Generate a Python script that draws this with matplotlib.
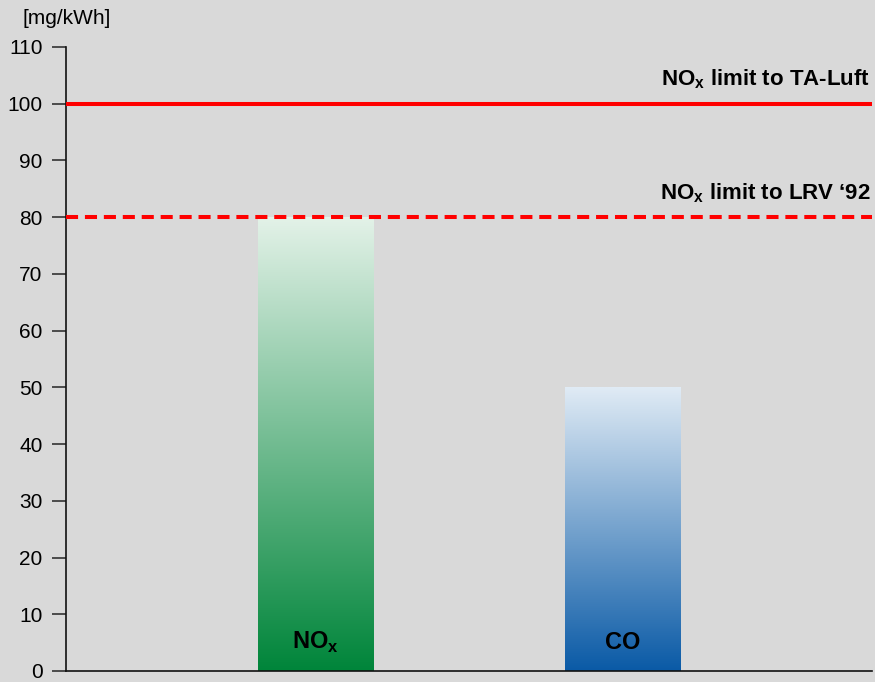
import numpy as np
import matplotlib
matplotlib.use("Agg")
from matplotlib import pyplot as plt
from matplotlib.colors import LinearSegmentedColormap

plt.rcParams['font.family'] = ['Liberation Sans', 'DejaVu Sans']
plt.rcParams['mathtext.fontset'] = 'custom'
plt.rcParams['mathtext.rm'] = 'Liberation Sans'
plt.rcParams['mathtext.bf'] = 'Liberation Sans:bold'

# data
categories = ['NO$_\\mathbf{x}$', 'CO']
values = [80, 50]
limit_names = ['NO$_\\mathbf{x}$ limit to TA-Luft', 'NO$_\\mathbf{x}$ limit to LRV \u201892']
limit_values = [100, 80]
yticks = list(range(0, 111, 10))

bg = '#d9d9d9'
bar_top_colors = ['#e3f2e8', '#e0ebf5']
bar_bottom_colors = ['#00853a', '#0a5aa6']
xpos = [0.31, 0.691]
width = 0.143

fig = plt.figure(figsize=(8.75, 6.82), dpi=100, facecolor=bg)
ax = fig.add_axes([66 / 875, 1 - 671 / 682, 806 / 875, 624 / 682])
ax.set_facecolor(bg)

for i, v in enumerate(values):
    x0 = xpos[i] - width / 2
    x1 = xpos[i] + width / 2
    cmap = LinearSegmentedColormap.from_list('g%d' % i, [bar_bottom_colors[i], bar_top_colors[i]])
    grad = np.linspace(0, 1, 256).reshape(-1, 1)
    ax.imshow(grad, extent=[x0, x1, 0, v], origin='lower', aspect='auto',
              cmap=cmap, zorder=2, interpolation='bilinear')
    ax.text(xpos[i], 5, categories[i], ha='center', va='center',
            fontsize=17, fontweight='bold', zorder=4)

styles = ['-', '--']
for i, lv in enumerate(limit_values):
    ln, = ax.plot([0, 1], [lv, lv], color='#ff0000', lw=2.9, ls=styles[i],
                  zorder=3, solid_capstyle='butt')
    if styles[i] == '--':
        ln.set_dashes((3, 1.7))
    ax.text(0.998, lv + 2.2, limit_names[i], ha='right', va='bottom',
            fontsize=16, fontweight='bold', zorder=4)

ax.set_xlim(0, 1)
ax.set_ylim(0, 110)
ax.set_yticks(yticks)
ax.set_xticks([])
ax.tick_params(axis='y', length=10, width=1.2, color='#333333', pad=7,
               labelsize=15)
for s in ['top', 'right']:
    ax.spines[s].set_visible(False)
for s in ['left', 'bottom']:
    ax.spines[s].set_linewidth(1.2)
    ax.spines[s].set_color('#111111')

fig.text(22 / 875, 1 - 18 / 682, '[mg/kWh]', ha='left', va='center', fontsize=15)

fig.savefig('out.png', dpi=100, facecolor=bg)
